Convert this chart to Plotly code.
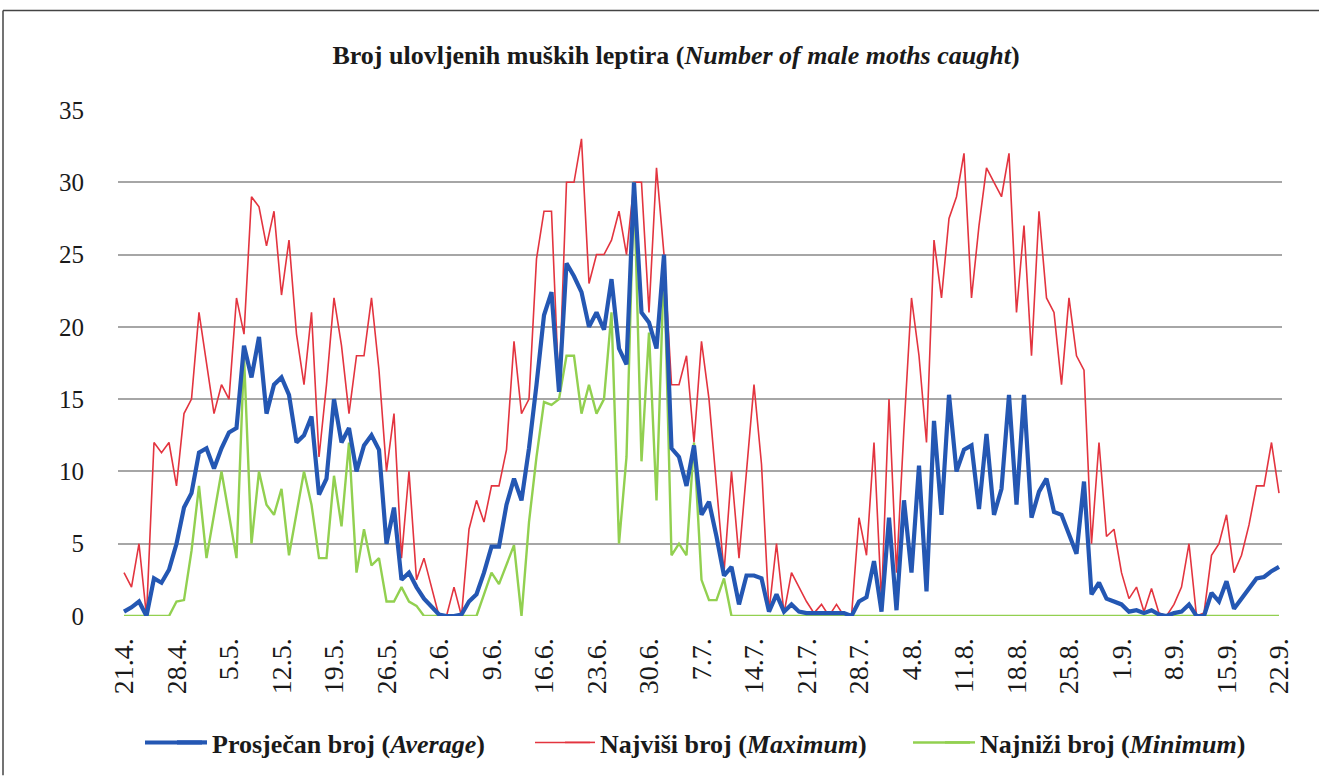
import plotly.graph_objects as go

tick_labels = ["21.4.", "28.4.", "5.5.", "12.5.", "19.5.", "26.5.", "2.6.", "9.6.",
               "16.6.", "23.6.", "30.6.", "7.7.", "14.7.", "21.7.", "28.7.", "4.8.",
               "11.8.", "18.8.", "25.8.", "1.9.", "8.9.", "15.9.", "22.9."]

average = [0.3, 0.6, 1, 0, 2.6, 2.3, 3.2, 5, 7.5, 8.5,
           11.3, 11.6, 10.2, 11.6, 12.7, 13, 18.7, 16.5, 19.3, 14,
           16, 16.5, 15.3, 12, 12.5, 13.8, 8.4, 9.5, 15, 12,
           13, 10, 11.8, 12.5, 11.5, 5, 7.5, 2.5, 3, 2,
           1.2, 0.6, 0.1, 0, 0, 0.1, 1, 1.5, 3, 4.8,
           4.8, 7.7, 9.5, 8, 11.6, 16, 20.8, 22.4, 15.5, 24.4,
           23.5, 22.4, 20, 21, 19.8, 23.3, 18.5, 17.4, 30, 21,
           20.3, 18.5, 25, 11.6, 11, 9, 11.8, 7, 7.9, 5.5,
           2.8, 3.4, 0.8, 2.8, 2.8, 2.6, 0.3, 1.5, 0.3, 0.8,
           0.3, 0.2, 0.2, 0.2, 0.2, 0.2, 0.2, 0, 1, 1.3,
           3.8, 0.3, 6.8, 0.4, 8, 3, 10.4, 1.7, 13.5, 7,
           15.3, 10, 11.5, 11.8, 7.4, 12.6, 7, 8.8, 15.3, 7.7,
           15.3, 6.8, 8.6, 9.5, 7.2, 7, 5.7, 4.3, 9.3, 1.5,
           2.3, 1.2, 1, 0.8, 0.3, 0.4, 0.2, 0.4, 0.1, 0,
           0.2, 0.3, 0.8, 0, 0, 1.6, 1, 2.4, 0.5, 1.2,
           2, 2.6, 2.7, 3.1, 3.4]

maximum = [3, 2, 5, 0, 12, 11.3, 12, 9, 14, 15,
           21, 17.5, 14, 16, 15, 22, 19.5, 29, 28.3, 25.6,
           28, 22.2, 26, 19.5, 16, 21, 11, 16, 22, 18.7,
           14, 18, 18, 22, 17, 10, 14, 4, 10, 2.5,
           4, 2, 0, 0, 2, 0, 6, 8, 6.5, 9,
           9, 11.5, 19, 14, 15, 24.7, 28, 28, 15.5, 30,
           30, 33, 23, 25, 25, 26, 28, 25, 30, 30,
           21, 31, 25, 16, 16, 18, 12, 19, 15, 9,
           3, 10, 4, 10, 16, 10.5, 0.3, 5, 0.2, 3,
           2, 1, 0.2, 0.8, 0, 0.8, 0, 0, 6.8, 4.2,
           12, 1, 15, 3, 13, 22, 18, 12, 26, 22,
           27.5, 29, 32, 22, 27, 31, 30, 29, 32, 21,
           27, 18, 28, 22, 21, 16, 22, 18, 17, 5,
           12, 5.5, 6, 3, 1.2, 2, 0.3, 1.9, 0.2, 0,
           0.8, 2, 5, 0, 0.2, 4.2, 5, 7, 3, 4.2,
           6.3, 9, 9, 12, 8.5]

minimum = [0, 0, 0, 0, 0, 0, 0, 1, 1.1, 4.5,
           9, 4, 7, 10, 7, 4, 18, 5, 10, 7.7,
           7, 8.8, 4.2, 7, 10, 7.7, 4, 4, 9.7, 6.2,
           12, 3, 6, 3.5, 4, 1, 1, 2, 1, 0.7,
           0, 0, 0, 0, 0, 0, 0, 0, 1.5, 3,
           2.2, 3.5, 4.9, 0, 6.5, 11, 14.8, 14.6, 15, 18,
           18, 14, 16, 14, 15, 21, 5, 11, 30, 10.7,
           19.6, 8, 24.4, 4.2, 5, 4.2, 12, 2.5, 1.1, 1.1,
           2.6, 0, 0, 0, 0, 0, 0, 0, 0, 0,
           0, 0, 0, 0, 0, 0, 0, 0, 0, 0,
           0, 0, 0, 0, 0, 0, 0, 0, 0, 0,
           0, 0, 0, 0, 0, 0, 0, 0, 0, 0,
           0, 0, 0, 0, 0, 0, 0, 0, 0, 0,
           0, 0, 0, 0, 0, 0, 0, 0, 0, 0,
           0, 0, 0, 0, 0, 0, 0, 0, 0, 0,
           0, 0, 0, 0, 0]

series_names = ["<b>Prosječan broj (<i>Average</i>)</b>",
                "<b>Najviši broj (<i>Maximum</i>)</b>",
                "<b>Najniži broj (<i>Minimum</i>)</b>"]
series_colors = ["#2457b3", "#e3343f", "#92d050"]
series_widths = [4.2, 1.6, 2.4]
title_text = "<b>Broj ulovljenih muških leptira (<i>Number of male moths caught</i>)</b>"

days = list(range(len(average)))
tick_vals = [7 * i for i in range(len(tick_labels))]

W, H = 1319, 778
L, R, T, B = 118, 1282, 110, 618
FONT = "Liberation Serif"
TXT = "#1a1a1a"
LEG_Y = 745
LEG_X = [172, 560, 940]          # legend item starts (text at +40)
SAMPLE_X = [(145, 202), (535, 590), (913, 970)]  # longer sample strokes as in the reference


def px(xp):
    return (xp - L) / (R - L)


def py(yp):
    return (B - yp) / (B - T)


fig = go.Figure()
fig.add_trace(go.Scatter(x=days, y=maximum, mode="lines", name=series_names[1],
                         legend="legend2",
                         line=dict(color=series_colors[1], width=series_widths[1])))
fig.add_trace(go.Scatter(x=days, y=minimum, mode="lines", name=series_names[2],
                         legend="legend3",
                         line=dict(color=series_colors[2], width=series_widths[2])))
fig.add_trace(go.Scatter(x=days, y=average, mode="lines", name=series_names[0],
                         legend="legend",
                         line=dict(color=series_colors[0], width=series_widths[0])))


def leg(xstart):
    return dict(orientation="h", x=px(xstart), xanchor="left", y=py(LEG_Y), yanchor="middle",
                font=dict(family=FONT, size=26, color=TXT), bgcolor="rgba(0,0,0,0)")


fig.update_layout(
    width=W, height=H,
    margin=dict(l=L, r=W - R, t=T, b=H - B),
    paper_bgcolor="white", plot_bgcolor="white",
    font=dict(family=FONT, color=TXT),
    title=dict(text=title_text, x=676 / W, xref="container", xanchor="center",
               y=1 - 55 / H, yref="container", yanchor="middle",
               font=dict(family=FONT, size=26, color=TXT)),
    showlegend=True,
    legend=leg(LEG_X[0]), legend2=leg(LEG_X[1]), legend3=leg(LEG_X[2]),
    xaxis=dict(range=[-0.8, 154.4], tickmode="array", tickvals=tick_vals,
               ticktext=tick_labels, tickangle=-90, showgrid=False, zeroline=False,
               showline=False, ticks="outside", ticklen=10, tickcolor="rgba(0,0,0,0)",
               tickfont=dict(family=FONT, size=28, color=TXT)),
    yaxis=dict(range=[0, 35], dtick=5, tick0=0, showgrid=True, gridcolor="#a6a6a6",
               gridwidth=2, zeroline=False, showline=False, ticks="outside",
               ticklen=28, tickcolor="rgba(0,0,0,0)",
               tickfont=dict(family=FONT, size=25, color=TXT)),
)

# longer legend sample strokes
for (x0, x1), c, w in zip(SAMPLE_X, series_colors, series_widths):
    fig.add_shape(type="line", xref="paper", yref="paper", x0=px(x0), x1=px(x1),
                  y0=py(LEG_Y), y1=py(LEG_Y), line=dict(color=c, width=w))

# outer frame (left and top edges)
fig.add_shape(type="line", xref="paper", yref="paper", x0=px(3), x1=px(3), y0=py(10), y1=py(778),
              line=dict(color="#444444", width=1.5))
fig.add_shape(type="line", xref="paper", yref="paper", x0=px(3), x1=px(1319), y0=py(10), y1=py(10),
              line=dict(color="#444444", width=1.5))

fig.write_html("out.html", config={"displayModeBar": False},
               post_script="document.body.style.margin='0';document.body.style.padding='0';"
                           "document.body.style.overflow='hidden';")
